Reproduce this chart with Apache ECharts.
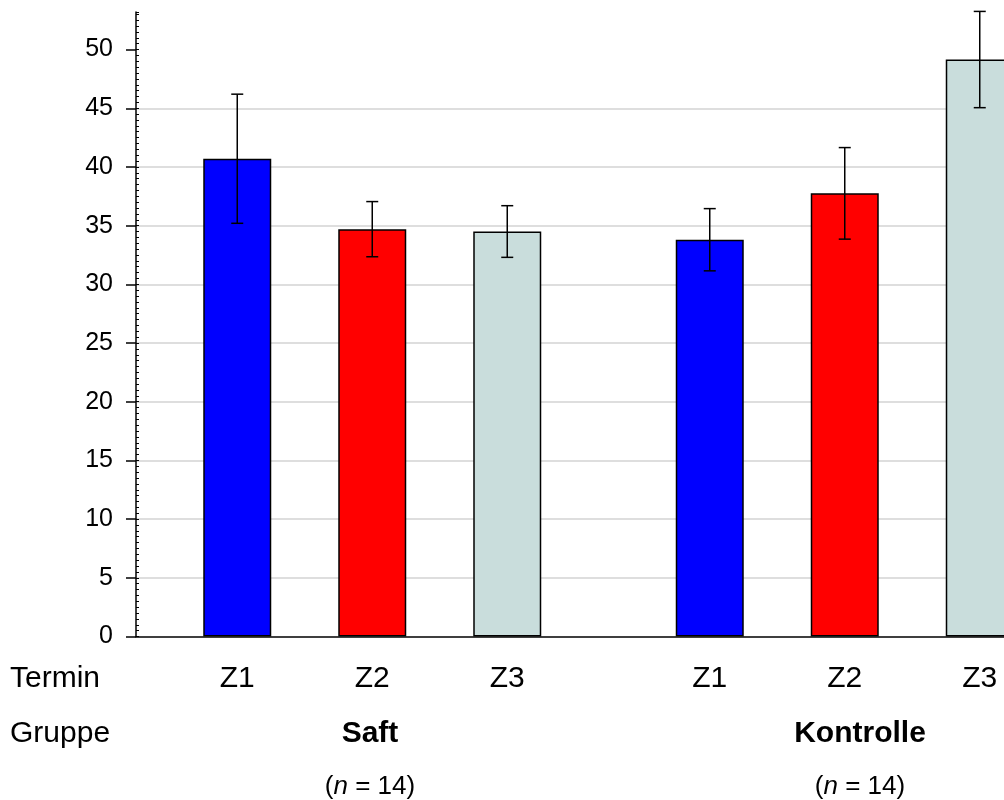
<!DOCTYPE html>
<html>
<head>
<meta charset="utf-8">
<script src="https://cdn.jsdelivr.net/npm/echarts@6/dist/echarts.min.js"></script>
<style>
html,body{margin:0;padding:0;background:#fff;}
#chart{width:1004px;height:800px;}
</style>
</head>
<body>
<div id="chart"></div>
<script>
// ---- data ----
const termine = ['Z1', 'Z2', 'Z3'];
const gruppen = ['Saft', 'Kontrolle'];
const gruppenN = [14, 14];
const saftMittel = [40.7, 34.7, 34.5];
const saftFehler = [5.5, 2.35, 2.2];
const kontrolleMittel = [33.8, 37.75, 49.15];
const kontrolleFehler = [2.65, 3.9, 4.1];
const yTicks = [0, 5, 10, 15, 20, 25, 30, 35, 40, 45, 50];
const zeileTermin = 'Termin';
const zeileGruppe = 'Gruppe';

// ---- styles / layout ----
const farben = ['#0000ff', '#ff0000', '#c9dddc'];
const FONT = '"Liberation Sans", Arial, Helvetica, sans-serif';
const groupLabelX = [370, 860];

const mittel = [saftMittel, kontrolleMittel];
const fehler = [saftFehler, kontrolleFehler];

// build category slots: each group = gap, bar, gap, bar, gap, bar, gap
const slots = [];
const barData = [];
const errData = [];
gruppen.forEach((g, gi) => {
  slots.push(g + '|gap0');
  barData.push('-');
  termine.forEach((t, ti) => {
    const idx = slots.length;
    slots.push(g + '|' + t);
    barData.push({ value: mittel[gi][ti], itemStyle: { color: farben[ti] } });
    errData.push([idx, mittel[gi][ti], fehler[gi][ti]]);
    slots.push(g + '|gap' + (ti + 1));
    barData.push('-');
  });
});

const chart = echarts.init(document.getElementById('chart'), null, { renderer: 'canvas' });

const option = {
  animation: false,
  backgroundColor: '#ffffff',
  grid: { left: 136, width: 945, top: 12, height: 624.5, containLabel: false, outerBoundsMode: 'none' },
  xAxis: {
    type: 'category',
    data: slots,
    boundaryGap: true,
    axisLine: { show: true, lineStyle: { color: '#000', width: 1.5 } },
    axisTick: { show: false },
    splitLine: { show: false },
    axisLabel: {
      interval: 0,
      margin: 27,
      color: '#000',
      fontSize: 30,
      fontFamily: FONT,
      formatter: function (v) {
        const p = v.split('|')[1];
        return p.indexOf('gap') === 0 ? '' : p;
      }
    }
  },
  yAxis: [
    {
      type: 'value',
      min: 0,
      max: 53.2,
      interval: 5,
      axisLine: { show: true, lineStyle: { color: '#000', width: 1.5 } },
      axisTick: { show: true, length: 10, customValues: yTicks, lineStyle: { color: '#000', width: 1.5 } },
      axisLabel: { customValues: yTicks, margin: 23, color: '#000', fontSize: 25, fontFamily: FONT },
      splitLine: { show: true, showMinLine: false, showMaxLine: false, lineStyle: { color: '#d3d3d3', width: 1.5 } }
    },
    {
      type: 'value',
      min: 0,
      max: 53.2,
      interval: 0.5,
      position: 'left',
      axisLine: { show: false },
      axisLabel: { show: false },
      splitLine: { show: false },
      axisTick: { show: true, inside: true, length: 3, lineStyle: { color: '#000', width: 1 } }
    }
  ],
  series: [
    {
      type: 'bar',
      data: barData,
      barWidth: 68,
      z: 2,
      itemStyle: { borderColor: '#000', borderWidth: 1.5 }
    },
    {
      type: 'custom',
      z: 3,
      data: errData,
      clip: false,
      renderItem: function (params, api) {
        const x = api.value(0);
        const m = api.value(1);
        const e = api.value(2);
        const top = api.coord([x, m + e]);
        const bot = api.coord([x, m - e]);
        const hw = 6;
        const st = { stroke: '#000', lineWidth: 1.5 };
        return {
          type: 'group',
          children: [
            { type: 'line', shape: { x1: top[0], y1: top[1], x2: bot[0], y2: bot[1] }, style: st },
            { type: 'line', shape: { x1: top[0] - hw, y1: top[1], x2: top[0] + hw, y2: top[1] }, style: st },
            { type: 'line', shape: { x1: bot[0] - hw, y1: bot[1], x2: bot[0] + hw, y2: bot[1] }, style: st }
          ]
        };
      }
    }
  ],
  graphic: [
    { type: 'text', x: 10, y: 679, z: 10,
      style: { text: zeileTermin, font: '30px ' + FONT, fill: '#000', verticalAlign: 'middle', align: 'left' } },
    { type: 'text', x: 10, y: 734, z: 10,
      style: { text: zeileGruppe, font: '30px ' + FONT, fill: '#000', verticalAlign: 'middle', align: 'left' } }
  ].concat(gruppen.map((g, gi) => ({
    type: 'text', x: groupLabelX[gi], y: 734, z: 10,
    style: { text: g, font: 'bold 30px ' + FONT, fill: '#000', verticalAlign: 'middle', align: 'center' }
  }))).concat(gruppen.map((g, gi) => ({
    type: 'text', x: groupLabelX[gi], y: 787, z: 10,
    style: {
      text: '({i|n} = ' + gruppenN[gi] + ')',
      font: '26px ' + FONT, fill: '#000', verticalAlign: 'middle', align: 'center',
      rich: { i: { fontStyle: 'italic', fontSize: 26, fontFamily: FONT, fill: '#000' } }
    }
  })))
};

chart.setOption(option);
</script>
</body>
</html>
